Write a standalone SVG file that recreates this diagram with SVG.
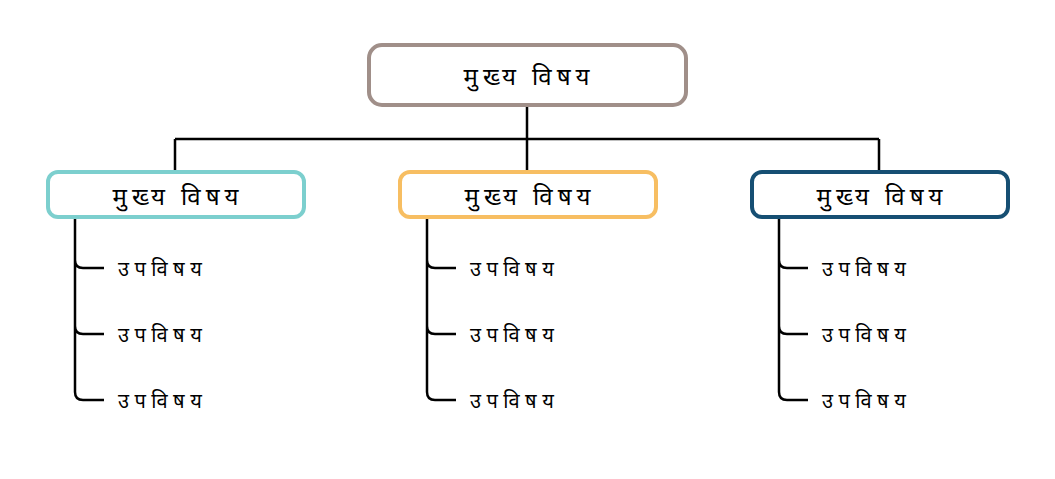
<svg xmlns="http://www.w3.org/2000/svg" width="1055" height="479" viewBox="0 0 1055 479">
<style>
.box{fill:#fff;stroke-width:4}
.main{font-family:"Noto Sans","Liberation Sans",sans-serif;font-size:24px;letter-spacing:5px;fill:#000;text-anchor:middle;dominant-baseline:central}
.sub{font-family:"Noto Sans","Liberation Sans",sans-serif;font-size:20px;letter-spacing:5.5px;fill:#000;dominant-baseline:central}
.ln{fill:none;stroke:#000;stroke-width:2.5}
</style>
<rect width="1055" height="479" fill="#fff"/>
<g id="connectors">
<path class="ln" d="M527 106V139M175 139H879M175 139V172M527 139V172M879 139V172"/>
<path class="ln" d="M75 218V392Q75 400 83 400H104M75 260Q75 268 83 268H104M75 326Q75 334 83 334H104"/>
<path class="ln" d="M427 218V392Q427 400 435 400H456M427 260Q427 268 435 268H456M427 326Q427 334 435 334H456"/>
<path class="ln" d="M779 218V392Q779 400 787 400H808M779 260Q779 268 787 268H808M779 326Q779 334 787 334H808"/>
</g>
<g id="root">
<rect class="box" x="369" y="45" width="317" height="60" rx="13" stroke="#a08f89" stroke-width="5"/>
<text class="main" x="529" y="75">मुख्य विषय</text>
</g>
<g id="topic1">
<rect class="box" x="48" y="172" width="256" height="45" rx="10" stroke="#7ccfce"/>
<text class="main" x="178" y="195">मुख्य विषय</text>
</g>
<g id="topic2">
<rect class="box" x="400" y="172" width="256" height="45" rx="10" stroke="#f7be62"/>
<text class="main" x="530" y="195">मुख्य विषय</text>
</g>
<g id="topic3">
<rect class="box" x="752" y="172" width="256" height="45" rx="10" stroke="#164f73"/>
<text class="main" x="882" y="195">मुख्य विषय</text>
</g>
<g id="sub1a"><text class="sub" x="118" y="268">उपविषय</text></g>
<g id="sub1b"><text class="sub" x="118" y="334">उपविषय</text></g>
<g id="sub1c"><text class="sub" x="118" y="400">उपविषय</text></g>
<g id="sub2a"><text class="sub" x="470" y="268">उपविषय</text></g>
<g id="sub2b"><text class="sub" x="470" y="334">उपविषय</text></g>
<g id="sub2c"><text class="sub" x="470" y="400">उपविषय</text></g>
<g id="sub3a"><text class="sub" x="822" y="268">उपविषय</text></g>
<g id="sub3b"><text class="sub" x="822" y="334">उपविषय</text></g>
<g id="sub3c"><text class="sub" x="822" y="400">उपविषय</text></g>
</svg>
